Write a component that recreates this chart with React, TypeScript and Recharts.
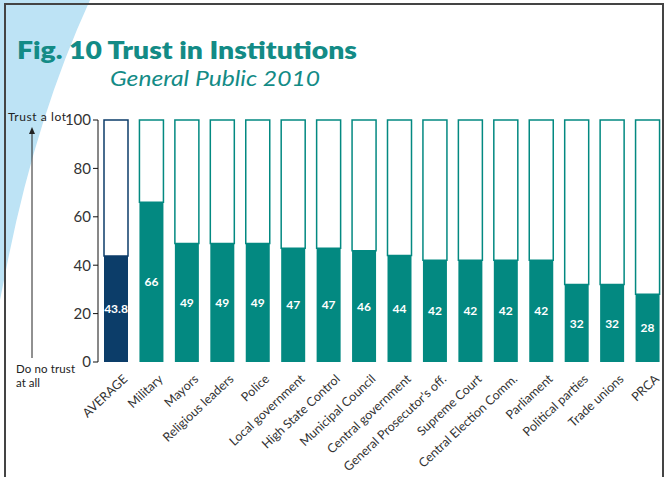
import { BarChart, Bar, XAxis, YAxis, Cell, LabelList } from "recharts";

const institutions = [
  "AVERAGE",
  "Military",
  "Mayors",
  "Religious leaders",
  "Police",
  "Local government",
  "High State Control",
  "Municipal Council",
  "Central government",
  "General Prosecutor's off.",
  "Supreme Court",
  "Central Election Comm.",
  "Parliament",
  "Political parties",
  "Trade unions",
  "PRCA",
];
const trust = [43.8, 66, 49, 49, 49, 47, 47, 46, 44, 42, 42, 42, 42, 32, 32, 28];
const yTicks = [0, 20, 40, 60, 80, 100];

const TEAL = "#038981";
const NAVY = "#0c3d69";
const FONT = "Lato, 'Open Sans', sans-serif";

const data = institutions.map((name, i) => ({
  name,
  value: trust[i],
  rest: 100 - trust[i],
}));

function AngledTick({ x, y, payload }: any) {
  return (
    <text
      x={x + 6}
      y={y + 3}
      transform={`rotate(-43, ${x + 6}, ${y + 3})`}
      textAnchor="end"
      dominantBaseline="hanging"
      fill="#333"
      fontSize={12.5}
      fontFamily={FONT}
    >
      {payload.value}
    </text>
  );
}

export default function App() {
  return (
    <div
      style={{
        position: "fixed",
        left: 0,
        top: 0,
        width: 666,
        height: 477,
        background: "#fff",
        overflow: "hidden",
        fontFamily: FONT,
      }}
    >
      <svg width={666} height={477} style={{ position: "absolute", left: 0, top: 0 }}>
        <path d="M0,0 L90,0 Q35,120 6,270 L0,300 Z" fill="#bde3f5" />
        <path d="M5,477 L5,4 L663,4 L663,477" fill="none" stroke="#444" strokeWidth={2} />
        <text
          x={17}
          y={59}
          fill="#138b86"
          fontSize={24}
          fontWeight={800}
          fontFamily={FONT}
          textLength={340}
          lengthAdjust="spacingAndGlyphs"
        >
          Fig. 10 Trust in Institutions
        </text>
        <text
          x={110}
          y={86}
          fill="#138b86"
          fontSize={21}
          fontStyle="italic"
          fontFamily={FONT}
          textLength={210}
          lengthAdjust="spacingAndGlyphs"
        >
          General Public 2010
        </text>
        <text x={8} y={121} fill="#222" fontSize={12} fontFamily={FONT} textLength={58}>
          Trust a lot
        </text>
        <line x1={32} y1={358} x2={32} y2={132} stroke="#222" strokeWidth={1} />
        <path d="M29,134 L32,127 L35,134 Z" fill="#222" />
        <text x={16} y={373} fill="#222" fontSize={11.5} fontFamily={FONT} textLength={59}>
          Do no trust
        </text>
        <text x={16} y={387} fill="#222" fontSize={11.5} fontFamily={FONT}>
          at all
        </text>
      </svg>
      <div style={{ position: "absolute", left: 0, top: 0 }}>
        <BarChart
          width={666}
          height={477}
          data={data}
          margin={{ top: 120, right: 1, bottom: 0, left: 0 }}
          barCategoryGap={11}
        >
          <YAxis
            domain={[0, 100]}
            ticks={yTicks}
            width={98}
            axisLine={{ stroke: "#111" }}
            tickLine={{ stroke: "#111" }}
            tickSize={5}
            tick={{ fill: "#333", fontSize: 15, fontFamily: FONT }}
          />
          <XAxis
            dataKey="name"
            height={115}
            interval={0}
            axisLine={false}
            tickLine={false}
            tick={<AngledTick />}
          />
          <Bar dataKey="value" stackId="a" barSize={24} isAnimationActive={false}>
            {data.map((d, i) => (
              <Cell key={i} fill={i === 0 ? NAVY : TEAL} />
            ))}
            <LabelList
              dataKey="value"
              position="center"
              fill="#fff"
              fontSize={12}
              fontWeight={700}
              fontFamily={FONT}
            />
          </Bar>
          <Bar dataKey="rest" stackId="a" barSize={24} isAnimationActive={false} fill="#fff">
            {data.map((d, i) => (
              <Cell key={i} fill="#fff" stroke={i === 0 ? NAVY : TEAL} strokeWidth={1.5} />
            ))}
          </Bar>
        </BarChart>
      </div>
    </div>
  );
}
